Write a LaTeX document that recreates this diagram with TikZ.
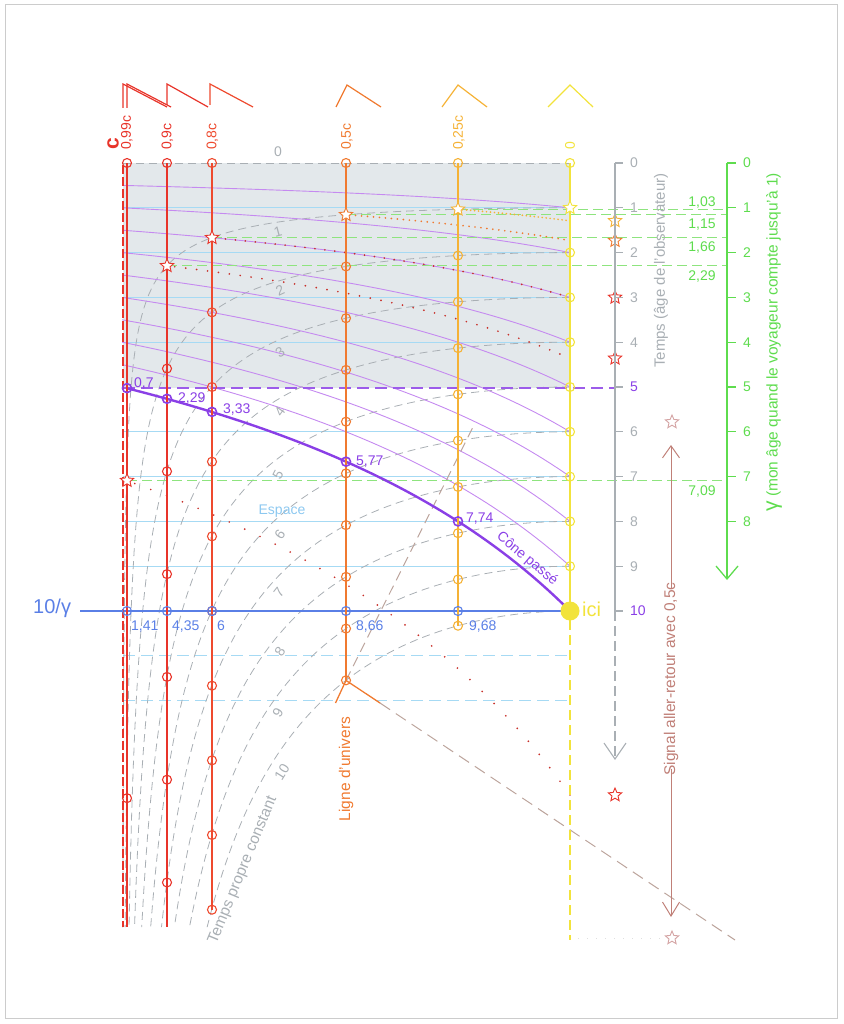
\documentclass[tikz,border=0pt]{standalone}
\usepackage{fontspec}
\setmainfont{Liberation Sans}
\usetikzlibrary{shapes.geometric,arrows.meta}
\definecolor{cred}{HTML}{E8342A}
\definecolor{credb}{HTML}{EE4A2E}
\definecolor{cdot}{HTML}{C8302A}
\definecolor{corange}{HTML}{F07A30}
\definecolor{camber}{HTML}{F5B236}
\definecolor{cyellow}{HTML}{F2E33C}
\definecolor{cgray}{HTML}{A9AFB4}
\definecolor{cfill}{HTML}{E3E8EB}
\definecolor{clblue}{HTML}{A6DAF4}
\definecolor{ctblue}{HTML}{8CC8F0}
\definecolor{cblue}{HTML}{5A7FE6}
\definecolor{cpurple}{HTML}{8A3FE6}
\definecolor{cpurplel}{HTML}{C58AF0}
\definecolor{cgreen}{HTML}{5EDC4E}
\definecolor{cgreenl}{HTML}{8EE47E}
\definecolor{cbrown}{HTML}{C08078}
\definecolor{cbrownd}{HTML}{BCA49C}
\definecolor{cstarb}{HTML}{D4A4A4}
\definecolor{cborder}{HTML}{CCCCCC}
\begin{document}
\begin{tikzpicture}[x=1pt,y=-1pt,
  lab/.style={font=\fontsize{14}{16}\selectfont, inner sep=0pt},
  midlab/.style={font=\fontsize{15.5}{17}\selectfont, inner sep=0pt},
  biglab/.style={font=\fontsize{20}{22}\selectfont, inner sep=0pt},
  arcst/.style={cgray, line width=0.8pt, dash pattern=on 8pt off 5pt},
  gdash/.style={cgreenl, line width=1.2pt, dash pattern=on 10pt off 5pt},
  wline/.style={line width=1.5pt},
  tk/.style={line width=1.1pt},
  sstar/.style={star, star points=5, star point ratio=2.2, draw=#1, fill=white, minimum size=14pt, inner sep=0pt, line width=0.9pt}
]
\useasboundingbox (0,0) rectangle (843,1024);
\draw[cborder, line width=1pt] (5,5) rectangle (837,1018);

% grey region
\fill[cfill] (123,163) rectangle (570,388);

% light blue "space" lines
\foreach \k in {1,2,3,4,6,7,8,9}
  \draw[clblue, line width=1pt] (123,{163+44.8*\k}) -- (570,{163+44.8*\k});
\foreach \k in {11,12}
  \draw[clblue, line width=1pt, dash pattern=on 12pt off 6pt] (123,{163+44.8*\k}) -- (570,{163+44.8*\k});

% constant proper time arcs
\draw[arcst] (123,163) -- (570,163);
\foreach \n in {1,...,10}{
  \pgfmathsetmacro\tm{acos(44.8*\n/764)}
  \draw[arcst] plot[domain=0:\tm, samples=90, variable=\t] ({570-448*sin(\t)},{163+44.8*\n/cos(\t)});
}

% thin purple past cones
\foreach \T in {1,...,9}
  \draw[cpurplel, line width=0.9pt] plot[domain=0:1, samples=50, variable=\v] ({570-448*\v},{163+44.8*\T/(1+\v)});

% purple dashed t=5
\draw[cpurple!85, line width=1.1pt, dash pattern=on 12pt off 6pt] (123,388) -- (615,388);

% green dashed gamma lines
\foreach \x/\g in {458/1.0328, 346/1.1547, 212/1.6667, 167/2.2942, 127/7.0888}
  \draw[gdash] (\x,{163+44.8*\g}) -- (727,{163+44.8*\g});

% dotted signal curves
\foreach \v/\g/\col/\gap in {0.25/1.0328/camber/4pt, 0.5/1.1547/corange/6pt, 0.8/1.6667/cdot/10pt, 0.9/2.2942/cdot/11pt, 0.99/7.0888/cdot/17pt}
  \draw[\col, line width=1.9pt, line cap=round, dash pattern=on 0pt off \gap]
    plot[domain=0:\v, samples=60, variable=\u] ({570-448*\u},{163+44.8*\g*(1+\v)/(1+\u)});

% brown signal lines
\draw[cbrownd, line width=1pt, dash pattern=on 10pt off 6pt] (346,680.4) -- (475,423);
\draw[cbrownd, line width=1pt, dash pattern=on 12pt off 7pt] (380,703) -- (735,940);
\draw[gray!25, line width=1pt, dash pattern=on 1pt off 8pt] (578,938) -- (664,938);

% thick purple past cone
\draw[cpurple, line width=2.4pt] plot[domain=0:0.99, samples=60, variable=\v] ({570-448*\v},{163+448/(1+\v)});

% 10/gamma line
\draw[cblue, line width=2.4pt] (80,611) -- (570,611);

% world lines
\draw[cred, line width=2pt, dash pattern=on 9pt off 3pt] (123,165) -- (123,927);
\draw[cred, wline] (127,163) -- (127,927);
\draw[cred, wline] (167,163) -- (167,927);
\draw[credb, wline] (212,163) -- (212,909.7);
\draw[corange, wline] (346,163) -- (346,680.4);
\draw[camber, wline] (458,163) -- (458,625.7);
\draw[cyellow, wline] (570,163) -- (570,611);
\draw[cyellow, wline, dash pattern=on 10pt off 5pt] (570,620) -- (570,940);
\draw[corange, line width=1.3pt] (335.5,703) -- (346,680.4) -- (380,703);

% tick circles
\foreach \x/\col in {127/cred, 167/cred, 212/credb, 346/corange, 458/camber, 570/cyellow}
  \draw[\col, tk] (\x,163) circle[radius=4.5pt];
\draw[cred, tk] (127,{163+44.8*7.0888*2}) circle[radius=4.5pt];
\foreach \k in {2,...,7} \draw[cred, tk] (167,{163+44.8*2.2942*\k}) circle[radius=4.5pt];
\foreach \k in {2,...,10} \draw[credb, tk] (212,{163+44.8*1.6667*\k}) circle[radius=4.5pt];
\foreach \k in {2,...,10} \draw[corange, tk] (346,{163+44.8*1.1547*\k}) circle[radius=4.5pt];
\foreach \k in {2,...,10} \draw[camber, tk] (458,{163+44.8*1.0328*\k}) circle[radius=4.5pt];
\foreach \k in {2,...,9} \draw[cyellow, tk] (570,{163+44.8*\k}) circle[radius=4.5pt];
\foreach \x in {127,167,212,346,458}
  \draw[cblue, tk] (\x,611) circle[radius=4.5pt];
\foreach \x/\v in {127/0.99,167/0.9,212/0.8,346/0.5,458/0.25}
  \draw[cpurple, line width=1.6pt] (\x,{163+448/(1+\v)}) circle[radius=4.5pt];

% stars on world lines
\node[sstar=cyellow] (s0) at (570,207.8) {};
\node[sstar=camber] (s25) at (458,209.3) {};
\node[sstar=corange] (s50) at (346,214.7) {};
\node[sstar=cred] (s80) at (212,237.7) {};
\node[sstar=cred] (s90) at (167,265.8) {};
\node[sstar=cred] (s99) at (127,480.6) {};
% stars on observer axis
\node[sstar=camber] (r25) at (615,220.8) {};
\node[sstar=corange] (r50) at (615,240.6) {};
\node[sstar=cred] (r80) at (615,297.4) {};
\node[sstar=cred] (r90) at (615,358.3) {};
\node[sstar=cred] (r99) at (615,795) {};
\node[sstar=cstarb] (b1) at (672,422) {};
\node[sstar=cstarb] (b2) at (672,938) {};

% ici
\node[circle, fill=cyellow, minimum size=19pt, inner sep=0pt] (ici) at (570,611) {};
\node[biglab, text=cyellow, anchor=west] (icit) at (582,609) {ici};

% observer time axis
\draw[cgray, line width=1.1pt] (615,163) -- (615,611);
\draw[cgray, line width=1.1pt, dash pattern=on 10pt off 5pt, -{Straight Barb[length=16pt,width=22pt]}] (615,611) -- (615,760);
\foreach \k in {0,...,10} \draw[cgray, line width=1.1pt] (615,{163+44.8*\k}) -- (623,{163+44.8*\k});
\foreach \k in {0,1,2,3,4,6,7,8,9}
  \node[lab, text=cgray, anchor=west] (ta\k) at (630,{163+44.8*\k}) {\k};
\node[lab, text=cpurple, anchor=west] (ta5) at (630,387) {5};
\node[lab, text=cpurple, anchor=west] (ta10) at (630,611) {10};
\node[font=\fontsize{15}{17}\selectfont, inner sep=0pt, text=cgray, rotate=90, anchor=west] (tatitle) at (661,368) {Temps (âge de l'observateur)};

% gamma axis
\draw[cgreen, line width=1.3pt, -{Straight Barb[length=13pt,width=22pt]}] (727,163) -- (727,580);
\foreach \k in {0,...,8} {
  \draw[cgreen, line width=1.3pt] (727,{163+44.8*\k}) -- (736,{163+44.8*\k});
  \node[lab, text=cgreen, anchor=west] (ga\k) at (743,{163+44.8*\k}) {\k};
}
\node[midlab, text=cgreen, rotate=90, anchor=west] (gatitle) at (774,512) {{\fontsize{21}{22}\selectfont γ} (mon âge quand le voyageur compte jusqu'à 1)};
\node[lab, text=cgreen] (g1) at (702,203) {1,03};
\node[lab, text=cgreen] (g2) at (702,225) {1,15};
\node[lab, text=cgreen] (g3) at (702,248) {1,66};
\node[lab, text=cgreen] (g4) at (702,277) {2,29};
\node[lab, text=cgreen] (g5) at (702,492) {7,09};

% round-trip signal
\node[midlab, text=cbrown, rotate=90] (sig) at (671,679) {Signal aller-retour avec 0,5c};
\draw[cbrown, line width=1pt, -{Straight Barb[length=12pt,width=17pt]}] ([yshift=-7pt]sig.east) -- (671,445);
\draw[cbrown, line width=1pt, -{Straight Barb[length=14pt,width=17pt]}] ([yshift=7pt]sig.west) -- (671,917);

% top cone shapes
\draw[cred, line width=1.2pt] (123,108) -- (123,84) -- (167,107);
\draw[cred, line width=1.2pt] (127,108) -- (127,84) -- (171,107);
\draw[cred, line width=1.2pt] (167,105) -- (167,84) -- (208,107);
\draw[credb, line width=1.2pt] (210,105) -- (210,84) -- (253,107);
\draw[corange, line width=1.2pt] (336,107) -- (347,85) -- (381,107);
\draw[camber, line width=1.2pt] (442,107) -- (458,85) -- (487,107);
\draw[cyellow, line width=1.2pt] (548,107) -- (570,85) -- (593,107);

% velocity labels
\node[font=\bfseries\fontsize{21}{22}\selectfont, inner sep=0pt, text=cred, rotate=90, anchor=west] (lc) at (113,150) {c};
\node[lab, text=cred, rotate=90, anchor=west] (l99) at (127,150) {0,99c};
\node[lab, text=cred, rotate=90, anchor=west] (l90) at (167.5,150) {0,9c};
\node[lab, text=credb, rotate=90, anchor=west] (l80) at (212.5,150) {0,8c};
\node[lab, text=corange, rotate=90, anchor=west] (l50) at (347,150) {0,5c};
\node[lab, text=camber, rotate=90, anchor=west] (l25) at (459,150) {0,25c};
\node[lab, text=cyellow, rotate=90, anchor=west] (l0) at (570,150) {0};

% proper time labels
\node[lab, text=cgray] (p0) at (278,152) {0};
\foreach \n/\x/\y/\r in {1/278/232/15, 2/280/290/25, 3/280/352/35, 4/280/412/55, 5/278/475/62, 6/280/535/55, 7/279/592/52, 8/280/652/57, 9/278/713/60, 10/282/772/58}
  \node[lab, text=cgray, rotate=\r] (p\n) at (\x,\y) {\n};
\node[midlab, text=cgray, rotate=67.6] (ptc) at (243,870) {Temps propre constant};

% other labels
\node[lab, text=ctblue] (esp) at (282,511) {Espace};
\node[midlab, text=corange, rotate=90] (lu) at (346,769) {Ligne d'univers};
\node[lab, text=cpurple, rotate=-40] (cone) at (527,559) {Cône passé};
\node[biglab, text=cblue, anchor=west] (lg) at (33,608) {10/γ};

% purple values
\node[lab, text=cpurple, anchor=base west] (v1) at (134,387) {0,7};
\node[lab, text=cpurple, anchor=base west] (v2) at (178,402) {2,29};
\node[lab, text=cpurple, anchor=base west] (v3) at (223,413) {3,33};
\node[lab, text=cpurple, anchor=base west] (v4) at (356,465) {5,77};
\node[lab, text=cpurple, anchor=base west] (v5) at (466,522) {7,74};
% blue values
\node[lab, text=cblue, anchor=base west] (w1) at (131,630) {1,41};
\node[lab, text=cblue, anchor=base west] (w2) at (172,630) {4,35};
\node[lab, text=cblue, anchor=base west] (w3) at (217,630) {6};
\node[lab, text=cblue, anchor=base west] (w4) at (356,630) {8,66};
\node[lab, text=cblue, anchor=base west] (w5) at (469,630) {9,68};
\end{tikzpicture}
\end{document}
